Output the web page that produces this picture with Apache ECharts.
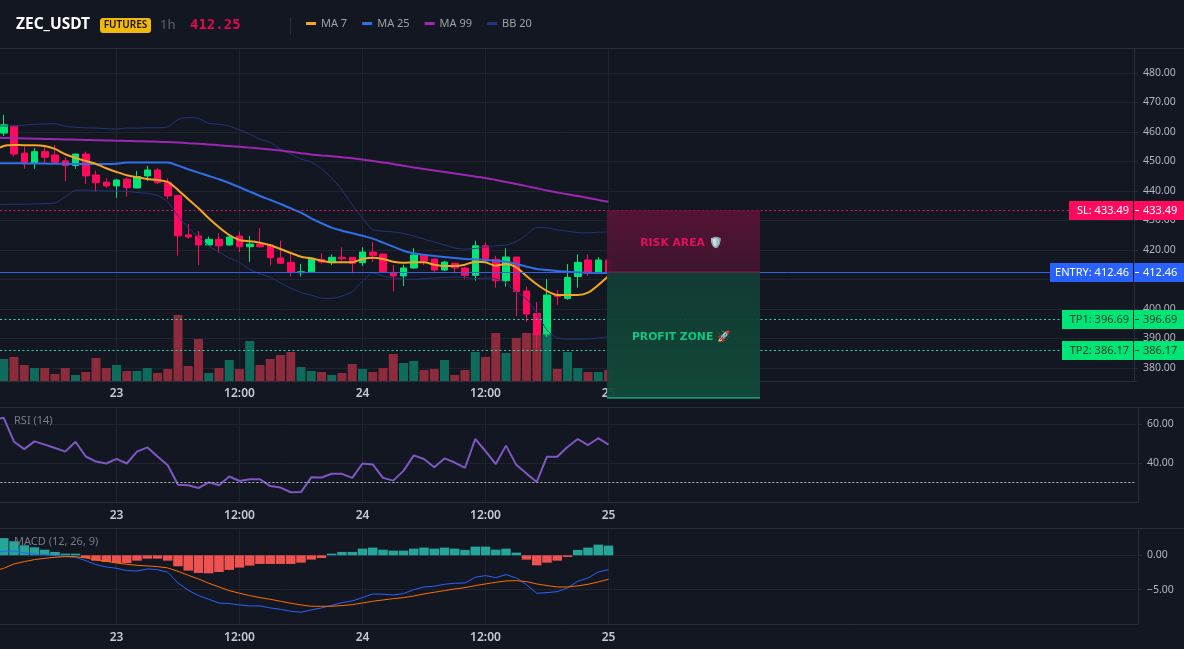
<!DOCTYPE html>
<html>
<head>
<meta charset="utf-8">
<title>ZEC_USDT 1h</title>
<style>
  html, body { margin: 0; padding: 0; background: #131722; }
  #chart { width: 1184px; height: 649px; }
</style>
<script src="https://cdn.jsdelivr.net/npm/echarts@6/dist/echarts.min.js"></script>
</head>
<body>
<div id="chart"></div>
<script>
// Hourly candles as [open, close, low, high]
const candles = [
  [459.6,462.4,458.6,465.8],[462.0,452.5,451.6,462.0],[452.8,449.6,447.5,455.0],[449.4,453.3,447.5,454.5],[453.3,451.4,449.4,455.0],
  [452.2,449.7,449.4,455.6],[450.2,448.6,443.2,451.4],[448.6,452.5,447.5,452.6],[452.5,445.1,442.4,453.3],[445.4,442.8,439.8,446.9],
  [443.0,441.7,441.1,444.3],[441.7,443.7,437.7,444.0],[444.0,441.1,438.1,444.6],[441.0,444.9,440.9,446.8],[445.1,447.1,443.4,448.5],
  [447.1,442.8,442.3,447.7],[442.8,438.3,437.2,444.3],[438.4,424.8,418.1,438.6],[425.1,424.4,423.8,428.8],[424.7,421.7,414.9,426.4],
  [421.7,423.6,421.5,424.5],[423.6,421.4,419.1,425.7],[421.7,424.4,421.5,425.1],[424.7,421.1,419.3,426.2],[421.1,422.0,416.0,424.7],
  [421.9,421.1,420.8,427.4],[421.7,417.4,414.7,422.0],[417.3,415.5,415.3,423.1],[415.8,412.4,411.0,418.6],[412.3,412.6,411.0,415.3],
  [412.6,417.2,412.3,417.3],[416.8,415.9,415.3,418.9],[415.7,417.5,414.9,418.5],[417.5,417.0,416.4,420.9],[417.5,415.5,412.1,417.6],
  [415.7,419.3,414.6,420.9],[419.3,418.2,415.9,422.7],[418.6,412.4,412.3,418.9],[412.4,411.2,405.9,414.9],[411.2,413.9,407.8,415.0],
  [413.9,418.3,413.7,420.6],[418.2,416.3,414.9,418.4],[416.9,413.2,412.6,417.2],[413.2,415.9,412.9,416.3],[415.5,413.9,412.1,415.7],
  [413.9,411.4,410.1,414.3],[411.4,421.4,409.6,423.1],[421.4,416.6,416.0,422.5],[416.8,409.6,407.2,418.0],[409.6,417.6,407.6,420.6],
  [417.6,405.9,397.6,417.7],[406.1,398.3,395.6,407.6],[398.5,391.3,386.7,402.4],[391.5,404.7,390.6,410.1],[404.7,404.2,401.4,406.4],
  [403.6,410.7,403.1,415.2],[411.0,415.8,407.2,418.5],[416.6,412.1,411.2,418.5],[412.3,416.6,411.9,417.5],[416.6,412.25,412.0,416.7]
];
const volumes = [
  22,24,16,13,13,7,13,6,9,23,
  13,16,10,10,13,8,12,66,15,42,
  8,13,21,12,40,16,22,26,29,14,
  10,9,6,8,17,12,9,13,27,18,
  20,11,12,21,6,11,29,24,48,28,
  43,48,48,48,12,29,13,9,9,11
];
// Overlays and oscillators start one hour before the first candle
const ma7 = [
  453.56,455.25,455.59,455.49,455.49,455.25,454.24,452.44,451.19,450.17,
  449.15,447.69,446.44,445.32,444.64,444.07,443.73,443.05,440.34,437.18,
  434.13,430.74,427.69,425.08,423.39,422.95,422.47,421.59,420.34,418.98,
  417.73,417.18,416.37,415.83,415.83,415.83,416.95,417.39,416.95,416.03,
  415.69,415.83,415.83,415.01,414.57,414.57,415.01,416.03,415.83,414.67,
  415.25,414.13,411.18,408.37,406.10,404.74,404.74,404.74,405.52,408.13,411.18
];
const ma25 = [
  449.4,449.4,449.4,449.3,449.3,449.3,449.2,449.2,449.1,449.1,
  449.1,449.1,449.25,449.6,449.6,449.6,449.6,449.6,448.58,447.35,
  446.2,445.08,443.96,442.71,441.25,439.76,438.3,436.95,435.59,434.13,
  432.64,430.74,429.05,427.56,426.54,425.66,424.84,423.83,422.47,421.12,
  419.76,418.88,418.4,417.96,417.62,417.28,416.95,416.84,416.6,416.37,
  416.03,415.25,414.34,413.56,413.22,412.88,412.64,412.44,412.3,412.2,412.2
];
const ma99 = [
  458.13,457.96,457.9,457.8,457.73,457.63,457.52,457.46,457.39,457.29,
  457.22,457.12,457.05,456.95,456.88,456.78,456.68,456.57,456.41,456.2,
  456.0,455.76,455.49,455.22,454.95,454.68,454.37,454.07,453.69,453.25,
  452.78,452.37,452.03,451.76,451.42,451.08,450.68,450.17,449.66,449.15,
  448.54,447.96,447.46,446.95,446.44,445.93,445.42,444.91,444.41,443.73,
  443.05,442.37,441.63,440.91,440.17,439.49,438.88,438.3,437.63,436.95,436.37
];
const bbUpper = [
  462.0,462.0,462.0,462.3,462.6,462.7,462.8,461.9,461.6,461.4,
  461.3,461.1,461.0,461.3,461.3,461.4,461.4,461.7,464.2,464.9,
  464.6,462.9,462.6,462.0,460.7,459.2,457.5,456.4,454.2,452.5,
  450.8,449.8,447.5,444.4,440.3,435.3,430.8,426.9,426.4,426.1,
  425.6,424.7,423.7,422.7,421.7,420.7,420.3,420.5,421.0,421.4,
  421.7,422.8,425.1,427.6,427.5,426.8,426.4,425.9,425.8,426.0,426.1
];
const bbLower = [
  435.4,435.4,435.5,435.5,435.6,435.7,435.9,438.0,440.2,440.3,
  440.1,440.0,440.0,439.8,439.5,439.2,438.5,436.3,431.5,427.5,
  424.4,421.4,419.3,417.3,415.8,413.4,411.9,410.8,408.8,407.1,
  405.6,404.7,403.7,403.6,404.4,405.8,409.5,412.2,411.2,410.5,
  410.2,410.0,410.3,410.5,410.7,410.8,410.7,410.3,410.5,410.2,
  408.8,405.8,403.4,398.6,392.8,390.2,389.8,389.8,389.8,390.2,390.6
];
const rsi = [
  62.3,63.3,51.0,47.2,51.2,49.5,47.8,45.9,51.0,43.4,
  40.8,39.8,42.2,39.8,45.9,48.1,43.4,38.9,28.9,28.6,
  27.2,30.1,28.6,33.1,30.8,31.7,31.7,28.2,27.4,25.0,
  25.1,32.7,32.6,34.5,34.5,32.4,39.8,39.3,32.4,31.0,
  36.0,44.0,42.1,37.9,42.4,40.3,37.6,52.4,46.2,39.5,
  49.0,39.1,34.6,30.3,43.3,43.3,48.3,52.4,49.3,52.8,49.5
];
const macdLine = [
  0.34,0.58,0.63,0.34,0.19,0.10,-0.05,-0.19,-0.29,-0.78,
  -1.36,-1.70,-1.89,-2.23,-2.28,-1.99,-2.09,-2.47,-4.03,-5.09,
  -5.87,-6.40,-6.94,-7.03,-7.23,-7.37,-7.37,-7.66,-7.86,-8.15,
  -8.29,-7.95,-7.66,-7.28,-6.89,-6.64,-6.16,-5.63,-5.67,-5.77,
  -5.58,-5.00,-4.61,-4.51,-4.22,-4.07,-4.03,-3.20,-2.96,-3.25,
  -2.81,-3.30,-4.27,-5.53,-5.43,-5.29,-4.75,-3.78,-3.30,-2.43,-2.09
];
const macdSignal = [
  -2.33,-1.89,-1.26,-0.92,-0.63,-0.44,-0.29,-0.19,-0.19,-0.39,
  -0.68,-0.87,-1.12,-1.31,-1.46,-1.55,-1.65,-1.84,-2.33,-2.91,
  -3.44,-4.07,-4.61,-5.14,-5.53,-5.87,-6.16,-6.40,-6.69,-6.98,
  -7.23,-7.42,-7.42,-7.42,-7.32,-7.18,-6.94,-6.69,-6.50,-6.31,
  -6.16,-5.92,-5.63,-5.38,-5.14,-4.90,-4.70,-4.41,-4.17,-3.93,
  -3.73,-3.69,-3.83,-4.17,-4.41,-4.61,-4.61,-4.46,-4.22,-3.88,-3.49
];
const macdHist = [
  2.5,2.04,1.46,1.16,0.82,0.49,0.24,0.24,-0.39,-0.78,
  -0.97,-1.12,-1.12,-0.78,-0.49,-0.49,-0.78,-1.6,-2.23,-2.57,
  -2.62,-2.43,-2.13,-1.79,-1.5,-1.26,-1.26,-1.26,-1.26,-1.07,
  -0.63,-0.39,0.24,0.49,0.49,0.97,1.12,0.82,0.68,0.68,
  0.97,1.12,0.97,1.12,0.97,0.78,1.26,1.26,0.82,0.97,
  0.39,-0.63,-1.46,-1.07,-0.78,-0.24,0.78,1.12,1.55,1.41
];
const rsiFloor = [30];
const priceTicks = [380, 390, 400, 410, 420, 430, 440, 450, 460, 470, 480];

// Time axis: slot 0 is the hour before the first candle, the tail is empty room on the right
const slotCount = 112;
const tickSlots = [12, 24, 36, 48, 60];
const tickLabels = ['23', '12:00', '24', '12:00', '25'];
const categories = new Array(slotCount).fill('');
tickSlots.forEach((s, i) => { categories[s] = tickLabels[i]; });

// Trade levels
const levelNames = ['SL', 'ENTRY', 'TP1', 'TP2'];
const levelValues = [433.49, 412.46, 396.69, 386.17];
const levelFill = ['#ff0a5c', '#2962ff', '#00e676', '#00e676'];
const levelInk = ['#ffffff', '#ffffff', '#0b3a28', '#0b3a28'];
const levelLine = ['#e0155f', '#2f62e6', '#2fd6ac', '#2fd6ac'];
const levelTagLeft = [1069, 1050, 1062, 1062];

// Risk and reward boxes: [top price, bottom price]
const zoneNames = ['RISK AREA 🛡️', 'PROFIT ZONE 🚀'];
const zoneBounds = [[433.49, 412.46], [412.46, 369.85]];
const zoneInk = ['#e0125a', '#12c583'];
const zoneStops = [['#5a1334', '#3e1530'], ['#123c33', '#114a3a']];
const zoneEdge = ['#e0155f', '#2fd6a0'];
const zoneFirstSlot = 59.85;
const zoneLastSlot = 74.78;

const FONT = '"Noto Sans", "Liberation Sans", sans-serif';
const GRID_LINE = '#20242f';
const AXIS_LINE = '#2a2e39';
const AXIS_TEXT = '#b2b5be';
const UP = '#00e676';
const DOWN = '#ff0a5c';

const isTick = (i, v) => v !== '';
const lead = [null];

function timeAxis(gridIndex, margin) {
  return {
    type: 'category', gridIndex, data: categories,
    boundaryGap: true,
    axisLine: { show: true, onZero: false, lineStyle: { color: AXIS_LINE } },
    axisTick: { show: false },
    axisLabel: { interval: isTick, margin, color: '#c6c9d1', fontFamily: FONT, fontSize: 12, fontWeight: 600, hideOverlap: false },
    splitLine: { show: true, interval: isTick, alignWithLabel: true, lineStyle: { color: GRID_LINE } }
  };
}

function priceAxis(gridIndex, min, max, interval, offset) {
  return {
    type: 'value', gridIndex, position: 'right', offset, min, max, interval,
    axisLine: { show: true, onZero: false, lineStyle: { color: AXIS_LINE } },
    axisTick: { show: true, length: 4, lineStyle: { color: AXIS_LINE } },
    axisLabel: {
      color: AXIS_TEXT, fontFamily: FONT, fontSize: 10.5, margin: 9,
      showMinLabel: false, showMaxLabel: false,
      formatter: v => v.toFixed(2).replace('-', '\u2212')
    },
    splitLine: { show: true, lineStyle: { color: GRID_LINE } }
  };
}

function overlay(name, data, color, width, z) {
  return {
    name, type: 'line', xAxisIndex: 0, yAxisIndex: 0, data,
    symbol: 'none', smooth: 0.25, z, clip: true, silent: true,
    lineStyle: { color, width }, itemStyle: { color }
  };
}

function renderLevel(params, api) {
  const i = params.dataIndex;
  const value = api.value(1);
  const y = Math.round(api.coord([0, value])[1]) + 0.5;
  const left = levelTagLeft[i];
  const text = value.toFixed(2);
  const labelStyle = { fill: levelInk[i], font: '11px ' + FONT, verticalAlign: 'middle' };
  return {
    type: 'group',
    children: [
      { type: 'line', shape: { x1: 0, y1: y, x2: left, y2: y },
        style: { stroke: levelLine[i], lineWidth: 1, lineDash: levelNames[i] === 'ENTRY' ? null : [2, 2.5] }, z2: 1 },
      { type: 'rect', shape: { x: left, y: y - 9.5, width: 1134 - left - 1, height: 19 }, style: { fill: levelFill[i] }, z2: 30 },
      { type: 'rect', shape: { x: 1134, y: y - 9.5, width: 50, height: 19 }, style: { fill: levelFill[i] }, z2: 30 },
      { type: 'rect', shape: { x: 1135, y: y - 0.5, width: 4, height: 1 }, style: { fill: levelInk[i] }, z2: 31 },
      { type: 'text', style: Object.assign({ text: levelNames[i] + ': ' + text, x: 1129, y, align: 'right' }, labelStyle), z2: 31 },
      { type: 'text', style: Object.assign({ text, x: 1143, y, align: 'left' }, labelStyle), z2: 31 }
    ]
  };
}

function renderZone(params, api) {
  const i = params.dataIndex;
  const slot = api.size([1, 0])[0];
  const x0 = api.coord([Math.floor(zoneFirstSlot), 0])[0] + (zoneFirstSlot % 1) * slot;
  const x1 = api.coord([Math.floor(zoneLastSlot), 0])[0] + (zoneLastSlot % 1) * slot;
  const yTop = api.coord([0, api.value(1)])[1];
  const yBottom = api.coord([0, api.value(2)])[1];
  const fill = new echarts.graphic.LinearGradient(0, 0, 0, 1, [
    { offset: 0, color: zoneStops[i][0] }, { offset: 1, color: zoneStops[i][1] }
  ]);
  return {
    type: 'group',
    children: [
      { type: 'rect', shape: { x: x0, y: yTop, width: x1 - x0, height: yBottom - yTop }, style: { fill, opacity: 0.95 } },
      { type: 'line', shape: { x1: x0, y1: yBottom, x2: x1, y2: yBottom }, style: { stroke: zoneEdge[i], lineWidth: 1 } },
      { type: 'text', style: { text: zoneNames[i], x: (x0 + x1) / 2 - 2.5, y: (yTop + yBottom) / 2 + 2, fill: zoneInk[i],
        font: 'bold 10.8px "DejaVu Sans", sans-serif', align: 'center', verticalAlign: 'middle' } }
    ]
  };
}

const headerText = (text, x, y, fill, font, align) =>
  ({ type: 'text', z: 20, style: { text, x, y, fill, font, align: align || 'left', verticalAlign: 'middle' } });
const rule = (y, x1, x2) =>
  ({ type: 'line', z: 1, shape: { x1: x1 || 0, y1: y, x2: x2 || 1184, y2: y }, style: { stroke: AXIS_LINE, lineWidth: 1 } });

const chart = echarts.init(document.getElementById('chart'), null, { renderer: 'canvas' });

// Lower panes keep their scale a little further right than the price pane
const mainPriceAxis = priceAxis(0, 375.6, 488.1, undefined, -2.4);
mainPriceAxis.axisTick.customValues = priceTicks;
mainPriceAxis.axisLabel.customValues = priceTicks;
mainPriceAxis.axisLabel.showMinLabel = true;
mainPriceAxis.axisLabel.showMaxLabel = true;

chart.setOption({
  animation: false,
  backgroundColor: '#131722',
  textStyle: { fontFamily: FONT },
  legend: {
    left: 306, top: 18, padding: 0, icon: 'rect', itemWidth: 10, itemHeight: 3, itemGap: 15, selectedMode: false,
    data: ['MA 7', 'MA 25', 'MA 99', 'BB 20'],
    textStyle: { color: '#9ca0aa', fontFamily: FONT, fontSize: 11 }
  },
  graphic: [
    rule(48.5), rule(407.5), rule(528.5), rule(502.5, 1136, 1138.5), rule(624.5, 1136, 1138.5),
    headerText('ZEC_USDT', 16, 25, '#ffffff', 'bold 15.5px ' + FONT),
    { type: 'rect', z: 20, shape: { x: 100, y: 18, width: 51, height: 15, r: 3 }, style: { fill: '#f0b90b' } },
    headerText('FUTURES', 125.5, 25.5, '#1a1405', '600 10px ' + FONT, 'center'),
    headerText('1h', 160, 25, '#5d6270', '13px ' + FONT),
    headerText('412.25', 190, 25, '#e0094f', 'bold 14px "DejaVu Sans Mono", monospace'),
    { type: 'line', z: 20, shape: { x1: 290.5, y1: 17, x2: 290.5, y2: 35 }, style: { stroke: AXIS_LINE, lineWidth: 1 } },
    headerText('RSI (14)', 14, 421, '#787b86', '11px ' + FONT),
    headerText('MACD (12, 26, 9)', 14, 541.5, '#787b86', '11px ' + FONT)
  ],
  grid: [
    { left: -11.625, width: 1148, top: 49, height: 332, outerBoundsMode: 'none' },
    { left: -11.625, width: 1148, top: 407.5, height: 94.5, outerBoundsMode: 'none' },
    { left: -11.625, width: 1148, top: 528.5, height: 95.5, outerBoundsMode: 'none' }
  ],
  xAxis: [timeAxis(0, 7), timeAxis(1, 8), timeAxis(2, 8)],
  yAxis: [
    mainPriceAxis,
    { type: 'value', gridIndex: 0, min: 0, max: 332, show: false, splitLine: { show: false } },
    priceAxis(1, 20, 68.6, 20, 1.6),
    priceAxis(2, -10, 3.9, 5, 1.6)
  ],
  series: [
    {
      name: 'Volume', type: 'bar', xAxisIndex: 0, yAxisIndex: 1, barWidth: 9, z: 1, silent: true,
      data: lead.concat(volumes.map((v, i) => ({
        value: v,
        itemStyle: { color: candles[i][1] >= candles[i][0] ? '#0e6b5b' : '#8c2b3b' }
      })))
    },
    {
      name: 'ZEC_USDT', type: 'candlestick', xAxisIndex: 0, yAxisIndex: 0, barWidth: 7, z: 2, silent: true,
      data: [['-', '-', '-', '-']].concat(candles),
      itemStyle: { color: UP, color0: DOWN, borderColor: UP, borderColor0: DOWN, borderWidth: 1 }
    },
    overlay('BB 20', bbUpper, '#24357f', 1, 3),
    overlay('BB 20', bbLower, '#24357f', 1, 3),
    overlay('MA 99', ma99, '#9c27b0', 2, 3),
    overlay('MA 25', ma25, '#2f6fe8', 2, 3),
    overlay('MA 7', ma7, '#f5a623', 2, 3),
    {
      type: 'custom', name: 'Levels', xAxisIndex: 0, yAxisIndex: 0, z: 4, silent: true,
      renderItem: renderLevel, encode: { x: 0, y: 1 },
      data: levelValues.map(v => [0, v])
    },
    {
      type: 'custom', name: 'Zones', xAxisIndex: 0, yAxisIndex: 0, z: 5, silent: true,
      renderItem: renderZone, encode: { x: 0, y: [1, 2] },
      data: zoneBounds.map(b => [0, b[0], b[1]])
    },
    {
      name: 'RSI', type: 'line', xAxisIndex: 1, yAxisIndex: 2, data: rsi, symbol: 'none', z: 3, silent: true,
      lineStyle: { color: '#7e57c2', width: 2 },
      markLine: {
        silent: true, symbol: 'none', label: { show: false },
        lineStyle: { color: '#b2b5be', type: [2, 2], width: 1 },
        data: rsiFloor.map(v => ({ yAxis: v }))
      }
    },
    {
      name: 'Histogram', type: 'bar', xAxisIndex: 2, yAxisIndex: 3, barWidth: 9.5, z: 2, silent: true,
      data: lead.concat(macdHist),
      itemStyle: { color: p => (p.value >= 0 ? '#26a69a' : '#ef5350') }
    },
    {
      name: 'MACD', type: 'line', xAxisIndex: 2, yAxisIndex: 3, data: macdLine, symbol: 'none', z: 3, silent: true,
      lineStyle: { color: '#2962ff', width: 1 }
    },
    {
      name: 'Signal', type: 'line', xAxisIndex: 2, yAxisIndex: 3, data: macdSignal, symbol: 'none', z: 3, silent: true,
      lineStyle: { color: '#ff6d00', width: 1 }
    }
  ]
});
</script>
</body>
</html>
